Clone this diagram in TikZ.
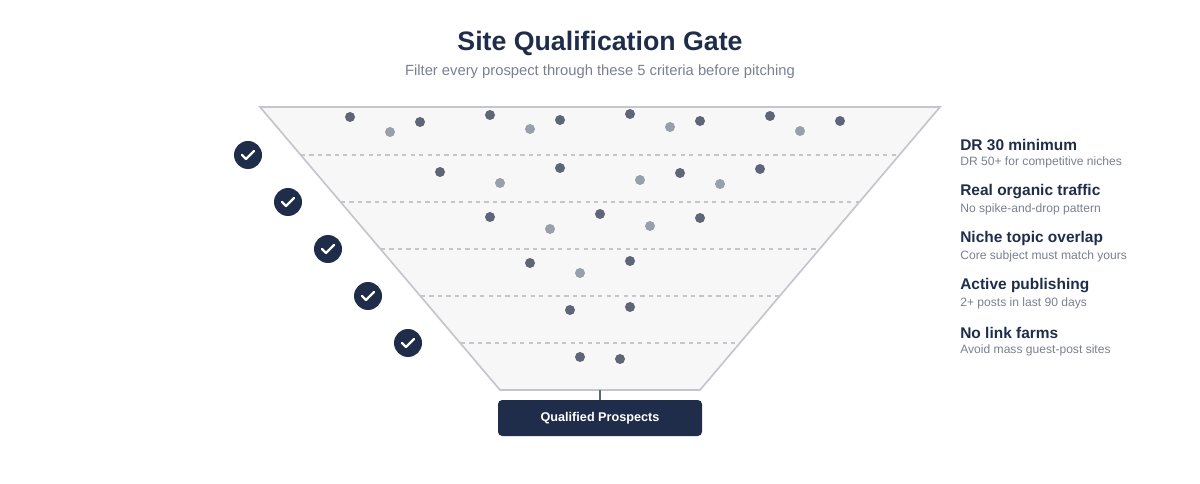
\documentclass[tikz,border=0pt]{standalone}
\usepackage{fontspec}
\setmainfont{Liberation Sans}
\definecolor{navy}{HTML}{1F2D4A}
\definecolor{dotdark}{HTML}{5F6678}
\definecolor{dotlight}{HTML}{9A9FAC}
\definecolor{funnelline}{HTML}{C4C6CC}
\definecolor{subgray}{HTML}{7A8090}
\begin{document}
\begin{tikzpicture}[
    x=0.025cm, y=-0.025cm,
    dark/.style={circle,fill=dotdark,inner sep=0pt,minimum size=10*0.025cm},
    light/.style={circle,fill=dotlight,inner sep=0pt,minimum size=10*0.025cm},
    check/.style={circle,fill=navy,inner sep=0pt,minimum size=28*0.025cm},
    crit/.style={anchor=west,font=\fontsize{11}{13}\selectfont\bfseries,text=navy,inner sep=0pt},
    note/.style={anchor=west,font=\fontsize{8.6}{10}\selectfont,text=subgray,inner sep=0pt},
    gate/.style={draw=funnelline,dashed,thick}
]
\useasboundingbox (0,0) rectangle (1200,484);

% heading
\node[font=\fontsize{19}{22}\selectfont\bfseries,text=navy] (title) at (600,43) {Site Qualification Gate};
\node[font=\fontsize{10.5}{12}\selectfont,text=subgray] (subtitle) at (600,72) {Filter every prospect through these 5 criteria before pitching};

% funnel
\draw[funnelline,fill=black!3,line width=1.2pt] (260,107) -- (940,107) -- (700,390) -- (500,390) -- cycle;
\foreach \y/\xa/\xb in {155/301/899,202/341/859,249/381/819,296/421/779,343/461/739}
    \draw[gate] (\xa,\y) -- (\xb,\y);

% prospects
\foreach \x/\y in {350/117,420/122,490/115,560/120,630/114,700/121,770/116,840/121,
    440/172,560/168,680/173,760/169,490/217,600/214,700/218,530/263,630/261,
    570/310,630/307,580/357,620/359}
    \node[dark] at (\x,\y) {};
\foreach \x/\y in {390/132,530/129,670/127,800/131,500/183,640/180,720/184,
    550/229,650/226,580/273}
    \node[light] at (\x,\y) {};

% checks
\foreach \i/\x/\y in {1/248/155,2/288/202,3/328/249,4/368/296,5/408/343} {
    \node[check] (chk\i) at (\x,\y) {};
    \draw[white,line width=1.6pt,line cap=round,line join=round]
        ([shift={(-6,0)}]chk\i.center) -- ([shift={(-2,4)}]chk\i.center) -- ([shift={(6,-4)}]chk\i.center);
}

% criteria
\node[crit] (c1) at (960,145) {DR 30 minimum};
\node[note] (n1) at (960,162) {DR 50+ for competitive niches};
\node[crit] (c2) at (960,192) {Real organic traffic};
\node[note] (n2) at (960,209) {No spike-and-drop pattern};
\node[crit] (c3) at (960,239) {Niche topic overlap};
\node[note] (n3) at (960,256) {Core subject must match yours};
\node[crit] (c4) at (960,286) {Active publishing};
\node[note] (n4) at (960,303) {2+ posts in last 90 days};
\node[crit] (c5) at (960,333) {No link farms};
\node[note] (n5) at (960,350) {Avoid mass guest-post sites};

% output
\coordinate (spout) at (600,390);
\node[fill=navy,rounded corners=3pt,minimum width=204*0.025cm,minimum height=36*0.025cm,
    text=white,font=\fontsize{9}{11}\selectfont\bfseries] (out) at (600,418) {Qualified Prospects};
\draw[dotdark,thick] (spout) -- (out.north);
\end{tikzpicture}
\end{document}
